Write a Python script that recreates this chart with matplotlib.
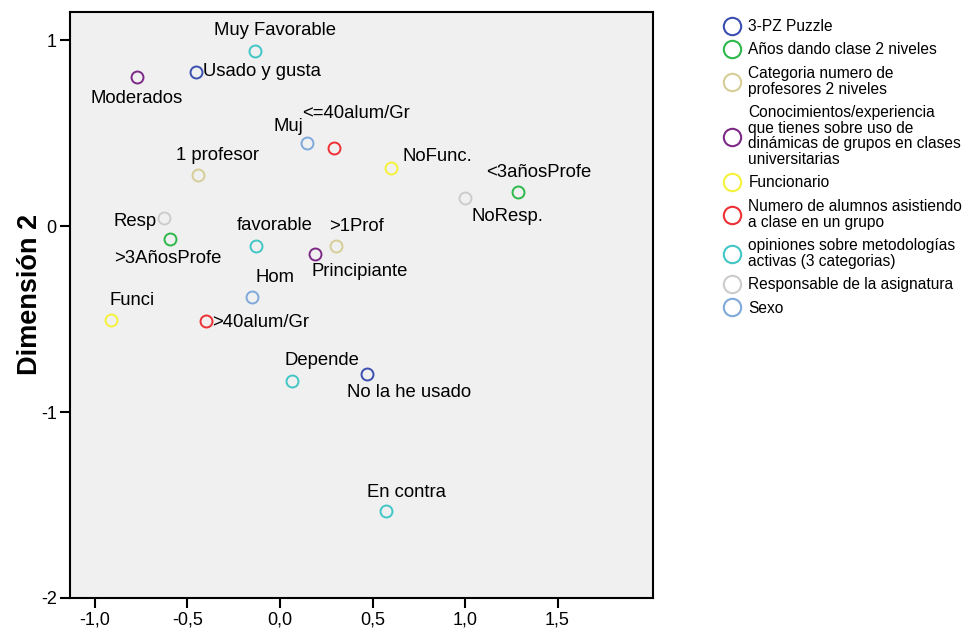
import matplotlib
matplotlib.use("Agg")
import matplotlib.pyplot as plt
from matplotlib.lines import Line2D
from matplotlib.ticker import FixedLocator, FuncFormatter

plt.rcParams['font.family'] = ['Liberation Sans', 'DejaVu Sans']

# ---- data (category quantifications, dimension 1 / dimension 2) ----
variables = [
    "3-PZ Puzzle",
    "Años dando clase 2 niveles",
    "Categoria numero de\nprofesores 2 niveles",
    "Conocimientos/experiencia\nque tienes sobre uso de\ndinámicas de grupos en clases\nuniversitarias",
    "Funcionario",
    "Numero de alumnos asistiendo\na clase en un grupo",
    "opiniones sobre metodologías\nactivas (3 categorias)",
    "Responsable de la asignatura",
    "Sexo",
]
colors = ["#3A4FB0", "#2DB84B", "#D6CE96", "#7D2A86", "#F5F23A",
          "#EE3035", "#42C6C6", "#CCCCCC", "#7FA9DA"]

puzzle_labels = ["Usado y gusta", "No la he usado"]
puzzle_x = [-0.456, 0.469]
puzzle_y = [0.831, -0.793]

anos_labels = ["<3añosProfe", ">3AñosProfe"]
anos_x = [1.288, -0.593]
anos_y = [0.182, -0.066]

prof_labels = ["1 profesor", ">1Prof"]
prof_x = [-0.443, 0.301]
prof_y = [0.275, -0.107]

conoc_labels = ["Moderados", "Principiante"]
conoc_x = [-0.773, 0.188]
conoc_y = [0.803, -0.148]

func_labels = ["NoFunc.", "Funci"]
func_x = [0.600, -0.915]
func_y = [0.316, -0.506]

alum_labels = ["<=40alum/Gr", ">40alum/Gr"]
alum_x = [0.294, -0.400]
alum_y = [0.419, -0.511]

opin_labels = ["Muy Favorable", "favorable", "Depende", "En contra"]
opin_x = [-0.134, -0.130, 0.066, 0.571]
opin_y = [0.945, -0.105, -0.830, -1.532]

resp_labels = ["Resp", "NoResp."]
resp_x = [-0.627, 1.000]
resp_y = [0.042, 0.150]

sexo_labels = ["Muj", "Hom"]
sexo_x = [0.148, -0.151]
sexo_y = [0.446, -0.382]

x_ticks = [-1.0, -0.5, 0.0, 0.5, 1.0, 1.5]
y_ticks = [-2, -1, 0, 1]

groups = [
    (puzzle_labels, puzzle_x, puzzle_y),
    (anos_labels, anos_x, anos_y),
    (prof_labels, prof_x, prof_y),
    (conoc_labels, conoc_x, conoc_y),
    (func_labels, func_x, func_y),
    (alum_labels, alum_x, alum_y),
    (opin_labels, opin_x, opin_y),
    (resp_labels, resp_x, resp_y),
    (sexo_labels, sexo_x, sexo_y),
]

# label placement (pixel offsets, horizontal alignment)
label_pos = {
    "Usado y gusta": (7, 0, "left"),
    "No la he usado": (-20, -19, "left"),
    "<3añosProfe": (20, 20, "center"),
    ">3AñosProfe": (-2, -20, "center"),
    "1 profesor": (19, 20, "center"),
    ">1Prof": (21, 20, "center"),
    "Moderados": (0, -21, "center"),
    "Principiante": (-3, -18, "left"),
    "NoFunc.": (11, 11, "left"),
    "Funci": (21, 20, "center"),
    "<=40alum/Gr": (-32, 35, "left"),
    ">40alum/Gr": (6, -1, "left"),
    "Muy Favorable": (20, 20, "center"),
    "favorable": (19, 20, "center"),
    "Depende": (30, 20, "center"),
    "En contra": (21, 19, "center"),
    "Resp": (-7, -3, "right"),
    "NoResp.": (6, -18, "left"),
    "Muj": (-4, 17, "right"),
    "Hom": (23, 20, "center"),
}

W, H = 968, 630
fig = plt.figure(figsize=(W / 100, H / 100), dpi=100)
ax = fig.add_axes([70 / W, (H - 598) / H, (653 - 70) / W, (598 - 12) / H])
ax.set_facecolor("#F0F0F0")

for (labs, xs, ys), col in zip(groups, colors):
    ax.plot(xs, ys, linestyle="none", marker="o", markersize=8.6,
            markerfacecolor="none", markeredgecolor=col, markeredgewidth=1.4)
    for lab, x, y in zip(labs, xs, ys):
        dx, dy, ha = label_pos[lab]
        ax.annotate(lab, (x, y), xytext=(dx, dy), textcoords="offset pixels",
                    ha=ha, va="center", fontsize=13.3, color="#000000")

ax.set_xlim(-1.135, 2.016)
ax.set_ylim(-2.0, 1.153)
ax.xaxis.set_major_locator(FixedLocator(x_ticks))
ax.yaxis.set_major_locator(FixedLocator(y_ticks))
ax.xaxis.set_major_formatter(FuncFormatter(lambda v, p: f"{v:.1f}".replace(".", ",").replace("\u2212", "-")))
ax.yaxis.set_major_formatter(FuncFormatter(lambda v, p: f"{int(round(v))}"))
ax.tick_params(axis="both", direction="out", length=7.5, width=1.5, labelsize=13, color="#000000")
ax.tick_params(axis="x", pad=2.5)
ax.tick_params(axis="y", pad=2)
for s in ax.spines.values():
    s.set_linewidth(1.5)
    s.set_color("#000000")

fig.text(30 / W, 1 - 294 / H, "Dimensión 2", rotation=90, ha="center", va="center",
         fontsize=19.5, fontweight="bold")

handles = [Line2D([], [], linestyle="none", marker="o", markersize=12.5,
                  markerfacecolor="none", markeredgecolor=c, markeredgewidth=1.5)
           for c in colors]
leg = fig.legend(handles, variables, loc="upper left", bbox_to_anchor=(722 / W, 1 - 19 / H),
                 frameon=False, fontsize=11.2, handlelength=1.25, handletextpad=0.45,
                 labelspacing=0.54, borderpad=0, borderaxespad=0)
for t in leg.get_texts():
    t.set_linespacing(1.06)

fig.savefig("out.png", dpi=100)
